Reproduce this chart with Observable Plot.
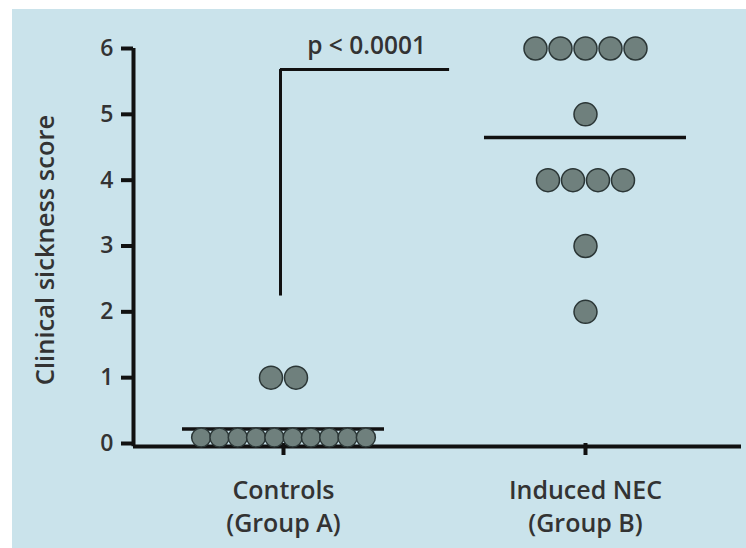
<!DOCTYPE html>
<html>
<head>
<meta charset="utf-8">
<script src="https://cdn.jsdelivr.net/npm/d3@7"></script>
<script src="https://cdn.jsdelivr.net/npm/@observablehq/plot@0.6"></script>
<style>
  html, body { margin: 0; padding: 0; background: #ffffff; }
  #wrap { position: relative; width: 746px; height: 548px; overflow: hidden; }
  #bg { position: absolute; left: 12px; top: 9px; right: 0; bottom: 0; background: #cae3eb; }
  #chart { position: absolute; left: 0; top: 0; }
</style>
</head>
<body>
<div id="wrap"><div id="bg"></div><div id="chart"></div></div>
<script>
// ---- data ----
const groupLabels = ["Controls\n(Group A)", "Induced NEC\n(Group B)"];
const controlsScores = [0, 0, 0, 0, 0, 0, 0, 0, 0, 0, 1, 1];
const necScores = [6, 6, 6, 6, 6, 5, 4, 4, 4, 4, 3, 2];
const groupMeans = [0.22, 4.65];
const yTicks = [0, 1, 2, 3, 4, 5, 6];
const pLabel = "p < 0.0001";
const bracketLow = 2.24, bracketHigh = 5.68, bracketEnd = 0.55;
const yLabel = "Clinical sickness score";

// ---- layout ----
const W = 746, H = 548, mL = 133, mR = 5, mT = 48, mB = 105;
const xDomain = [-0.4967, 1.5166];
const pxPerUnit = (W - mL - mR) / (xDomain[1] - xDomain[0]);
const pxPerY = (H - mT - mB) / 6;

// build dot table: rows of equal values spread symmetrically around the group centre
function spread(scores, g) {
  const byVal = d3.group(scores, v => v);
  const out = [];
  for (const [v, arr] of byVal) {
    const n = arr.length;
    const dense = n > 6;
    const step = (dense ? 18.3 : 25) / pxPerUnit;
    arr.forEach((_, k) => out.push({g, value: v, x: g + (k - (n - 1) / 2) * step, dense}));
  }
  return out;
}
const dots = [...spread(controlsScores, 0), ...spread(necScores, 1)];
const means = groupMeans.map((m, g) => ({g, m}));
const halfW = 101 / pxPerUnit;

const ink = "#111";
const txt = "#333";
const font = "'Open Sans', sans-serif";

const chart = Plot.plot({
  width: W, height: H,
  marginLeft: mL, marginRight: mR, marginTop: mT, marginBottom: mB,
  style: {background: "transparent", fontFamily: font, fontWeight: 600, color: txt, overflow: "visible"},
  x: {type: "linear", domain: xDomain, axis: null},
  y: {type: "linear", domain: [0, 6], axis: null},
  marks: [
    // y axis
    Plot.axisY({ticks: yTicks, tickSize: 12, tickPadding: 8, strokeWidth: 4, stroke: ink, fontSize: 23, fill: txt, label: null, tickFormat: d => d}),
    Plot.ruleX([xDomain[0]], {y1: -0.05, y2: 6, stroke: ink, strokeWidth: 4}),
    // x axis line + ticks + labels
    Plot.ruleY([0], {x1: xDomain[0], x2: xDomain[1], stroke: ink, strokeWidth: 4, dy: 3}),
    Plot.ruleX([0, 1], {y1: 0, y2: -12 / pxPerY, stroke: ink, strokeWidth: 4}),
    Plot.text(groupLabels, {x: (d, i) => i, y: 0, dy: 61, text: d => d, fontSize: 25, lineHeight: 1.32, fill: txt, textAnchor: "middle"}),
    // y label
    Plot.text([yLabel], {frameAnchor: "left", dx: -88, dy: 4, rotate: -90, textAnchor: "middle", fontSize: 25.5, fill: txt}),
    // mean lines
    Plot.ruleY(means, {y: "m", x1: d => d.g - halfW, x2: d => d.g + halfW, stroke: ink, strokeWidth: 3.5}),
    // significance bracket
    Plot.ruleX([0], {x: d => d - 0.01, y1: bracketLow, y2: bracketHigh, stroke: ink, strokeWidth: 3}),
    Plot.ruleY([bracketHigh], {x1: -0.01, x2: bracketEnd, stroke: ink, strokeWidth: 3}),
    Plot.text([pLabel], {x: bracketEnd / 2, y: 6, dy: -2, fontSize: 24.5, fill: txt, fontWeight: 600}),
    // dots
    Plot.dot(dots.filter(d => !d.dense), {x: "x", y: "value", r: 11.5, fill: "#6f807d", stroke: "#2b3636", strokeWidth: 1.5}),
    Plot.dot(dots.filter(d => d.dense), {x: "x", y: "value", r: 9.5, dy: -6, fill: "#6f807d", stroke: "#2b3636", strokeWidth: 1.5})
  ]
});
document.getElementById("chart").appendChild(chart);
</script>
</body>
</html>
